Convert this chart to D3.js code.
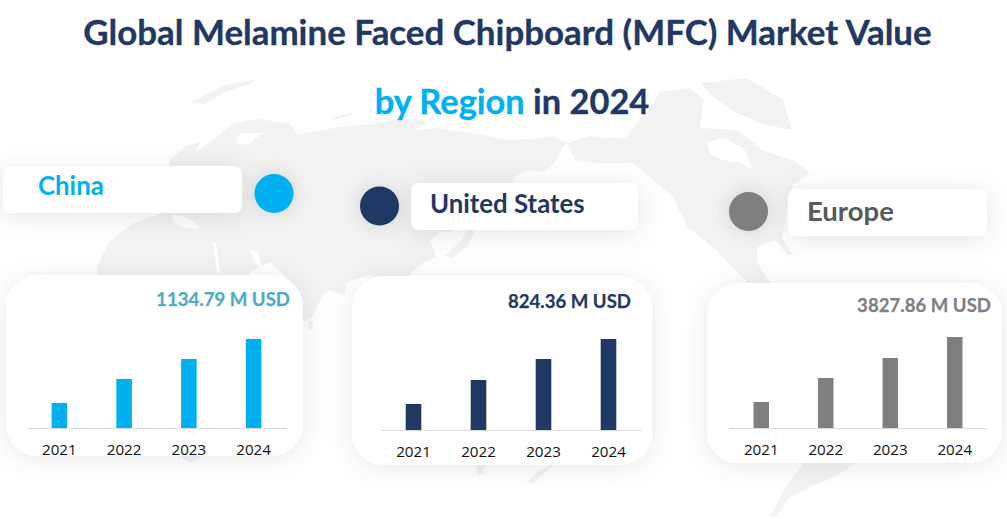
<!DOCTYPE html>
<html><head><meta charset="utf-8">
<script src="https://cdnjs.cloudflare.com/ajax/libs/d3/7.9.0/d3.min.js"></script>
<style>html,body{margin:0;padding:0;background:#fff;overflow:hidden}svg{display:block}</style>
</head><body><div id="chart"></div>
<script>
// ---- data ----
const years = ["2021","2022","2023","2024"];
const chinaValues = [319, 625, 880, 1134.79];
const usValues = [235.5, 453, 643, 824.36];
const europeValues = [1094, 2103, 2944, 3827.86];
const regionNames = ["China","United States","Europe"];
const totalLabels = ["1134.79 M USD","824.36 M USD","3827.86 M USD"];
const titleLine1 = "Global Melamine Faced Chipboard (MFC) Market Value";
const titleLine2a = "by Region";
const titleLine2b = " in 2024";

// ---- layout (not data) ----
const W=1007,H=519;
const FONT="Lato, Carlito, 'Open Sans', sans-serif";
const navy="#1F3864",cyan="#00B0F0",grey="#7F7F7F";
const panels=[
 {vals:chinaValues,color:cyan,total:"#4BACC6",card:[6,275,297,181],ax:[27,286],base:428,top:339,labelX:290,labelY:306,
  tag:[3,166,239,47],tagColor:cyan,tagX:38,tagY:195,tagSize:25.8,dot:[274,193.5]},
 {vals:usValues,color:navy,total:navy,card:[352,276,300,189],ax:[381,641],base:430,top:339,labelX:631,labelY:308,
  tag:[411,183,227,47],tagColor:navy,tagX:430,tagY:213,tagSize:25.8,dot:[379.5,206]},
 {vals:europeValues,color:grey,total:grey,card:[707,283,295,180],ax:[729,987],base:428,top:337,labelX:991,labelY:312,
  tag:[788,189,199,47],tagColor:"#595959",tagX:807,tagY:221,tagSize:27.5,dot:[748.5,211.5]}
];

const svg=d3.select("#chart").append("svg").attr("width",W).attr("height",H).attr("viewBox",[0,0,W,H]);
const defs=svg.append("defs");
function shadow(id,blur,op,dy){
  const f=defs.append("filter").attr("id",id).attr("x","-30%").attr("y","-60%").attr("width","160%").attr("height","220%");
  f.append("feDropShadow").attr("dx",0).attr("dy",dy).attr("stdDeviation",blur).attr("flood-color","#000").attr("flood-opacity",op);
}
shadow("cardShadow",13,0.09,3);
shadow("tagShadow",13,0.11,3);
shadow("dotShadow",9,0.15,0);

// ---- decorative world map backdrop ----
const land=[
 // Eurasia + Africa
 [[97,268],[108,243],[132,224],[160,214],[170,205],[170,180],[170,160],[186,146],[200,142],[196,152],[217,137],[232,124],[256,119],[290,123],[297,135],[316,131],[340,127],[372,124],[400,118],[423,120],[426,124],[412,130],[438,128],[470,133],[510,140],[528,139],[552,136],[566,143],[560,152],[556,162],[544,172],[528,170],[516,176],[510,186],[500,200],[486,200],[470,196],[455,210],[452,232],[440,232],[430,240],[436,258],[424,262],[412,272],[405,290],[370,275],[347,282],[344,296],[330,290],[322,296],[312,318],[304,322],[296,300],[285,276],[270,262],[250,272],[236,300],[232,350],[226,400],[204,455],[190,463],[178,455],[168,400],[150,340],[120,320],[100,300]],
 // Japan
 [[445,256],[462,240],[470,226],[474,232],[468,246],[452,258]],
 // North America
 [[567,143],[590,136],[610,138],[627,137],[640,118],[647,113],[660,92],[690,88],[704,100],[700,128],[738,130],[762,150],[793,160],[810,173],[800,180],[793,184],[790,200],[786,214],[782,238],[793,255],[788,255],[775,240],[757,247],[757,262],[768,280],[790,300],[760,300],[745,280],[713,247],[687,227],[673,197],[633,163],[600,163],[575,160]],
 // Greenland
 [[700,83],[747,78],[783,100],[792,130],[762,124],[735,112],[712,96]],
 [[190,103],[225,85],[257,79],[250,84],[225,92],[205,104]],
 [[331,118],[356,112],[348,116],[333,120]],
 // South America tail
 [[804,463],[854,463],[846,470],[827,480],[812,486],[790,497],[776,517],[770,517],[784,490]],
 // Oceania fragments
 [[476,465],[486,465],[482,474],[478,474]],
 [[527,482],[540,470],[552,465],[544,474],[532,484]],
 // Sri Lanka
 [[308,320],[313,322],[313,329],[309,330]]
];
const water=[
 [[707,142],[726,138],[745,150],[753,170],[738,162],[722,160],[710,154]],
 [[240,133],[263,133],[247,145],[236,143]],
 [[172,214],[188,218],[200,228],[184,228],[174,222]],
 [[213,243],[216,243],[220,273],[217,273]],
 [[250,250],[258,252],[262,268],[254,262]]
];
const outline=d3.line().curve(d3.curveLinearClosed);
const map=svg.append("g");
map.selectAll("path.land").data(land).join("path").attr("class","land").attr("d",outline).attr("fill","#f2f2f2");
map.selectAll("path.water").data(water).join("path").attr("class","water").attr("d",outline).attr("fill","#fff");

// ---- title ----
svg.append("text").attr("x",507.5).attr("y",44.5).attr("text-anchor","middle")
  .style("font",`700 34.9px ${FONT}`).attr("fill",navy).attr("stroke",navy).attr("stroke-width",0.35).text(titleLine1);
const t2=svg.append("text").attr("x",512).attr("y",113.5).attr("text-anchor","middle").style("font",`700 34.4px ${FONT}`).attr("xml:space","preserve");
t2.append("tspan").attr("fill",cyan).attr("stroke",cyan).attr("stroke-width",0.35).text(titleLine2a);
t2.append("tspan").attr("fill",navy).attr("stroke",navy).attr("stroke-width",0.35).text(titleLine2b);

// ---- panels ----
panels.forEach((p,i)=>{
  const g=svg.append("g");
  g.append("rect").attr("x",p.tag[0]).attr("y",p.tag[1]).attr("width",p.tag[2]).attr("height",p.tag[3]).attr("rx",8)
    .attr("fill","#fff").attr("filter","url(#tagShadow)");
  g.append("text").attr("x",p.tagX).attr("y",p.tagY).style("font",`700 ${p.tagSize}px ${FONT}`).attr("fill",p.tagColor).text(regionNames[i]);
  g.append("circle").attr("cx",p.dot[0]).attr("cy",p.dot[1]).attr("r",19.5).attr("fill",p.color).attr("filter","url(#dotShadow)");
  g.append("rect").attr("x",p.card[0]).attr("y",p.card[1]).attr("width",p.card[2]).attr("height",p.card[3]).attr("rx",32)
    .attr("fill","#fff").attr("filter","url(#cardShadow)");
  g.append("text").attr("x",p.labelX).attr("y",p.labelY).attr("text-anchor","end")
    .style("font",`700 18.6px ${FONT}`).attr("fill",p.total).attr("stroke",p.total).attr("stroke-width",0.25).text(totalLabels[i]);
  const x=d3.scaleBand().domain(years).range(p.ax).paddingInner(0.76).paddingOuter(0.38);
  const y=d3.scaleLinear().domain([0,d3.max(p.vals)]).range([p.base,p.top]);
  g.selectAll("rect.bar").data(p.vals).join("rect").attr("class","bar")
    .attr("x",(d,j)=>x(years[j])).attr("width",x.bandwidth())
    .attr("y",d=>y(d)).attr("height",d=>p.base-y(d)).attr("fill",p.color);
  const ax=g.append("g").attr("transform",`translate(0,${p.base})`).call(d3.axisBottom(x).tickSize(0).tickPadding(16));
  ax.select(".domain").attr("stroke","#d9d9d9").attr("stroke-width",1.2);
  ax.selectAll("text").style("font","15.2px 'Open Sans', sans-serif").attr("fill","#111");
});
</script></body></html>
